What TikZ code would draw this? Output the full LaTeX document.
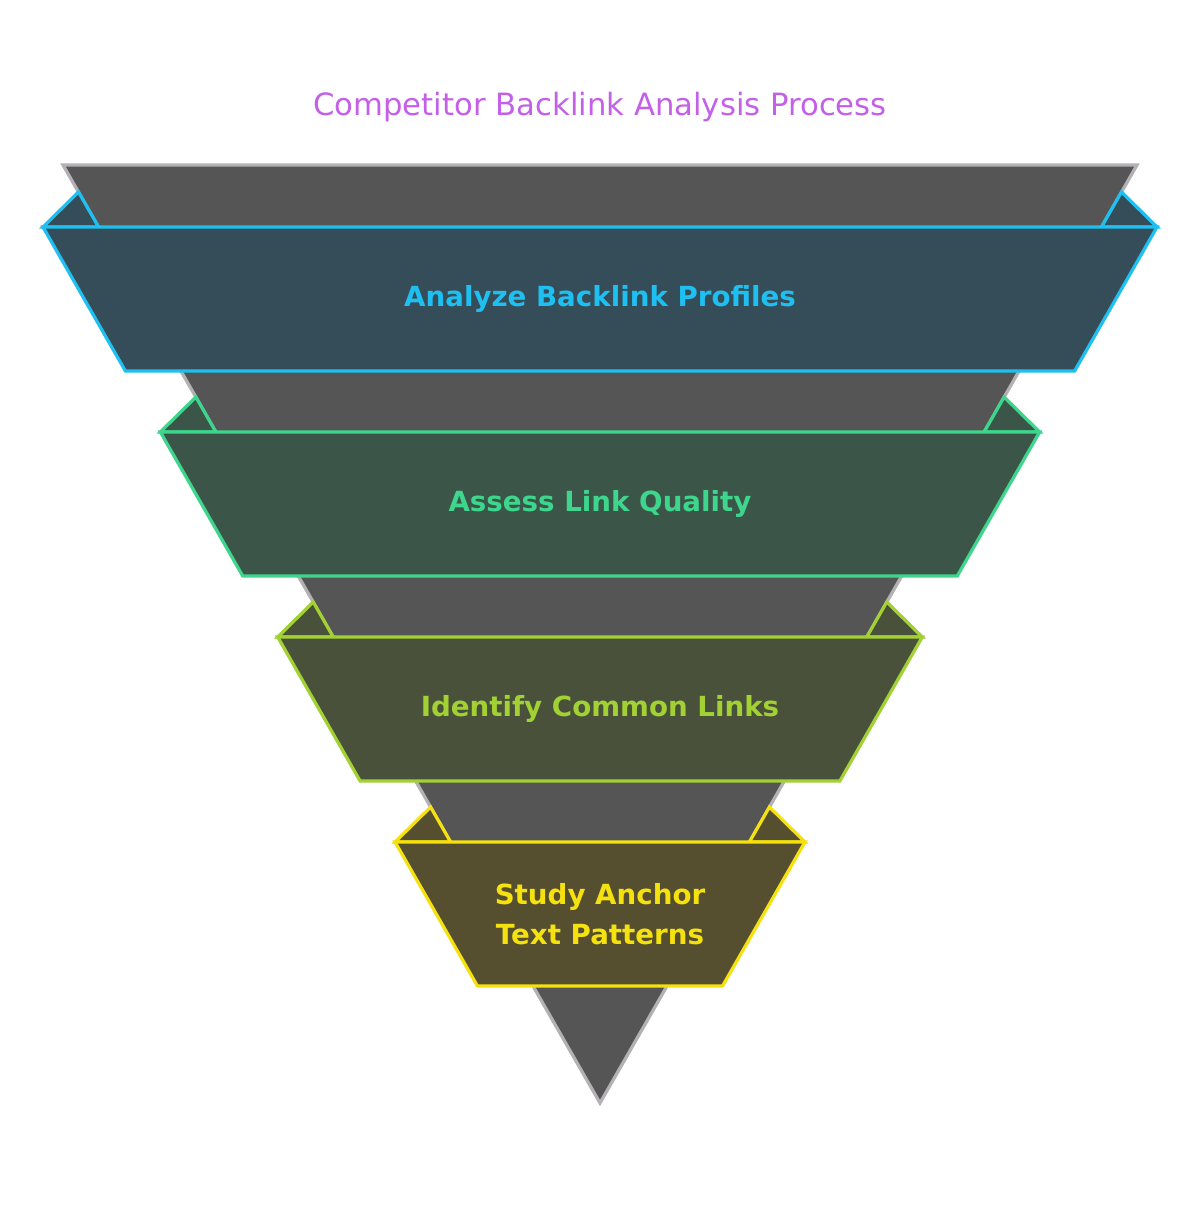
\documentclass[tikz,border=0pt]{standalone}
\usepackage{fontspec}
\setmainfont{DejaVu Sans}
\usetikzlibrary{calc}
\definecolor{funnelfill}{HTML}{555555}
\definecolor{funneledge}{HTML}{B4B1B4}
\definecolor{titlec}{HTML}{C460E8}
\definecolor{bafill}{HTML}{354D58}
\definecolor{baline}{HTML}{1EBFF1}
\definecolor{bbfill}{HTML}{3B5649}
\definecolor{bbline}{HTML}{3DD68C}
\definecolor{bcfill}{HTML}{4A513A}
\definecolor{bcline}{HTML}{A2D134}
\definecolor{bdfill}{HTML}{554F30}
\definecolor{bdline}{HTML}{F5E10E}
\tikzset{
  funnelshape/.style={fill=funnelfill, draw=funneledge, line width=3.2pt, line join=miter},
  bandshape/.style={line width=3.2pt, line join=miter},
  bandtext/.style={font=\fontsize{27.7}{40.5}\selectfont\bfseries, align=center, inner sep=0pt},
  titletext/.style={font=\fontsize{30.7}{36}\selectfont, text=titlec, inner sep=0pt}
}
\begin{document}
\begin{tikzpicture}[x=1pt,y=-1pt]
\useasboundingbox (0,0) rectangle (1200,1213);
\fill[white] (0,0) rectangle (1200,1213);
\node[titletext] (title) at (600,107) {Competitor Backlink Analysis Process};
\draw[funnelshape] (63,165) -- (1137,165) -- (600,1103) -- cycle;
\foreach \yt/\fc/\sc in {227/bafill/baline, 432/bbfill/bbline, 637/bcfill/bcline, 842/bdfill/bdline} {
  \pgfmathsetmacro\xe{63+0.5725*(\yt-165)}
  \pgfmathsetmacro\xo{\xe-55.5}
  \pgfmathsetmacro\xb{\xo+82.4}
  \pgfmathsetmacro\xa{\xe-20}
  \pgfmathsetmacro\ya{\yt-35}
  \pgfmathsetmacro\yb{\yt+144}
  \draw[bandshape, fill=\fc, draw=\sc] (\xo,\yt) -- (\xa,\ya) -- (\xe,\yt) -- cycle;
  \draw[bandshape, fill=\fc, draw=\sc] (1200-\xo,\yt) -- (1200-\xa,\ya) -- (1200-\xe,\yt) -- cycle;
  \draw[bandshape, fill=\fc, draw=\sc] (\xo,\yt) -- (1200-\xo,\yt) -- (1200-\xb,\yb) -- (\xb,\yb) -- cycle;
}
\node[bandtext, text=baline] (t1) at (600,299) {Analyze Backlink Profiles};
\node[bandtext, text=bbline] (t2) at (600,504) {Assess Link Quality};
\node[bandtext, text=bcline] (t3) at (600,709) {Identify Common Links};
\node[bandtext, text=bdline] (t4) at (600,914) {Study Anchor\\Text Patterns};
\end{tikzpicture}
\end{document}
